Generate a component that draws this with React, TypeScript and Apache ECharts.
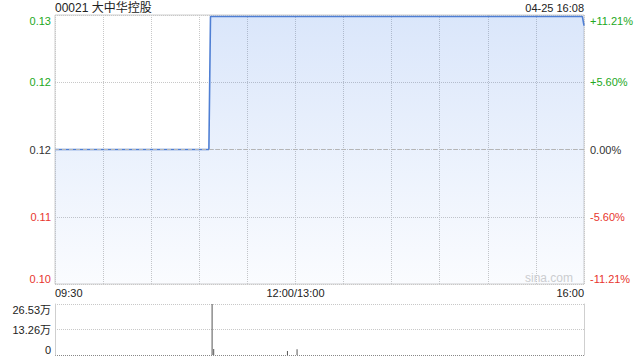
import React, { useEffect, useRef } from 'react';
import * as echarts from 'echarts';

const stockTitle = '00021 大中华控股';
const quoteTime = '04-25 16:08';
const preClose = 0.12;
const pctRange = 11.21;

// Minutes since the open (lunch break removed) and the price at each change
const priceMinutes = [0, 96, 97, 329, 330];
const prices = [0.12, 0.12, 0.1333, 0.1333, 0.1324];

// Per-minute volumes (shares) where trades happened
const volumeMinutes = [98, 99, 145, 151];
const volumes = [265300, 31000, 21000, 30000];
const volumeMax = 265300;

const timeTicks = [0, 150, 330];
const timeLabels = ['09:30', '12:00/13:00', '16:00'];

const priceTickLabels = ['0.10', '0.11', '0.12', '0.12', '0.13'];
const pctTickLabels = ['-11.21%', '-5.60%', '0.00%', '+5.60%', '+11.21%'];
const volumeTickLabels = ['0', '13.26万', '26.53万'];

const FONT = "'Liberation Sans', Arial, 'Noto Sans CJK SC', sans-serif";
const UP = '#22a822';
const DOWN = '#e8352e';
const FLAT = '#333';

const tickColor = (v: number) => (v > 1e-6 ? UP : v < -1e-6 ? DOWN : FLAT);

export default function App() {
  const ref = useRef<HTMLDivElement>(null);

  useEffect(() => {
    if (!ref.current) return;
    const chart = echarts.init(ref.current, undefined, { renderer: 'svg' });

    const pctData = priceMinutes.map((m, i) => [m, (prices[i] / preClose - 1) * 100]);
    const volData = volumeMinutes.map((m, i) => [m, volumes[i]]);

    const timeFormatter = (v: number) => {
      const i = timeTicks.indexOf(Math.round(v));
      return i >= 0 ? timeLabels[i] : '';
    };

    chart.setOption({
      animation: false,
      textStyle: { fontFamily: FONT },
      grid: [
        { left: 55, right: 56, top: 15, height: 269, show: true, borderColor: '#cfcfcf', borderWidth: 1 },
        { left: 55, right: 56, top: 304, height: 51 },
      ],
      xAxis: [
        {
          type: 'value',
          gridIndex: 0,
          min: 0,
          max: 330,
          interval: 30,
          axisLine: { show: false },
          axisTick: { show: false },
          splitLine: { show: true, lineStyle: { type: 'dotted', color: '#c8c8c8' } },
          axisLabel: {
            formatter: timeFormatter,
            color: '#222',
            fontSize: 11,
            fontFamily: FONT,
            margin: 3,
            alignMinLabel: 'left',
            alignMaxLabel: 'right',
          },
        },
        {
          type: 'value',
          gridIndex: 1,
          min: 0,
          max: 330,
          interval: 30,
          axisLine: { show: false },
          axisTick: { show: false },
          splitLine: { show: false },
          axisLabel: { show: false },
        },
      ],
      yAxis: [
        {
          type: 'value',
          gridIndex: 0,
          min: -pctRange,
          max: pctRange,
          interval: pctRange / 2,
          axisLine: { show: false },
          axisTick: { show: false },
          splitLine: { show: true, lineStyle: { type: 'dotted', color: '#c8c8c8' } },
          axisLabel: {
            formatter: (_v: number, i: number) => priceTickLabels[i],
            color: (v: number) => tickColor(Number(v)),
            fontSize: 11,
            fontFamily: FONT,
            margin: 4,
            verticalAlignMinLabel: 'bottom',
            verticalAlignMaxLabel: 'top',
          },
        },
        {
          type: 'value',
          gridIndex: 0,
          position: 'right',
          min: -pctRange,
          max: pctRange,
          interval: pctRange / 2,
          axisLine: { show: false },
          axisTick: { show: false },
          splitLine: { show: false },
          axisLabel: {
            formatter: (_v: number, i: number) => pctTickLabels[i],
            color: (v: number) => tickColor(Number(v)),
            fontSize: 11,
            fontFamily: FONT,
            margin: 6,
            verticalAlignMinLabel: 'bottom',
            verticalAlignMaxLabel: 'top',
          },
        },
        {
          type: 'value',
          gridIndex: 1,
          min: 0,
          max: volumeMax,
          interval: volumeMax / 2,
          axisLine: { show: true, lineStyle: { color: '#cfcfcf' } },
          axisTick: { show: false },
          splitLine: {
            show: true,
            lineStyle: { type: 'dotted', color: ['#888888', '#c8c8c8', '#c8c8c8'] },
          },
          axisLabel: {
            formatter: (_v: number, i: number) => volumeTickLabels[i],
            color: '#222',
            fontSize: 11,
            fontFamily: FONT,
            margin: 4,
            verticalAlignMinLabel: 'bottom',
            verticalAlignMaxLabel: 'top',
          },
        },
        {
          type: 'value',
          gridIndex: 1,
          position: 'right',
          min: 0,
          max: volumeMax,
          interval: volumeMax / 2,
          axisLine: { show: true, lineStyle: { color: '#cfcfcf' } },
          axisTick: { show: false },
          splitLine: { show: false },
          axisLabel: { show: false },
        },
      ],
      series: [
        {
          type: 'line',
          xAxisIndex: 0,
          yAxisIndex: 0,
          data: pctData,
          symbol: 'none',
          lineStyle: { color: '#4f7fd4', width: 1.6 },
          areaStyle: {
            origin: 'start',
            color: new echarts.graphic.LinearGradient(0, 0, 0, 1, [
              { offset: 0, color: 'rgba(61,124,232,0.27)' },
              { offset: 1, color: 'rgba(61,124,232,0.035)' },
            ]),
          },
          markLine: {
            silent: true,
            symbol: 'none',
            label: { show: false },
            lineStyle: { type: [4, 3], color: '#b5b5b5', width: 1 },
            data: [{ yAxis: 0 }],
          },
          z: 3,
        },
        {
          type: 'bar',
          xAxisIndex: 1,
          yAxisIndex: 2,
          data: volData,
          barWidth: 1,
          itemStyle: { color: '#555555' },
        },
      ],
      graphic: [
        {
          type: 'text',
          left: 55,
          top: 2,
          style: { text: stockTitle, fontSize: 12, fill: '#222', fontFamily: FONT },
        },
        {
          type: 'text',
          right: 56,
          top: 2,
          style: { text: quoteTime, fontSize: 11, fill: '#222', fontFamily: FONT },
        },
        {
          type: 'text',
          right: 67,
          top: 272,
          style: { text: 'sina.com', fontSize: 12, fill: '#cfcfcf', fontFamily: FONT },
        },
      ],
    });

    return () => chart.dispose();
  }, []);

  return (
    <div
      ref={ref}
      style={{ position: 'fixed', left: 0, top: 0, width: 640, height: 360, background: '#fff' }}
    />
  );
}
